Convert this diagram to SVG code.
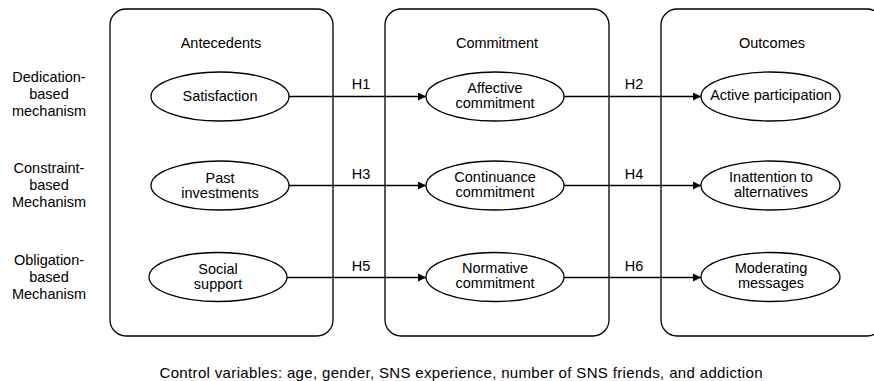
<svg xmlns="http://www.w3.org/2000/svg" width="874" height="381" viewBox="0 0 874 381">
<style>
text{font-family:"Liberation Sans",Arial,sans-serif;font-size:14.5px;fill:#000;text-anchor:middle;dominant-baseline:central}
.box{fill:#fff;stroke:#000;stroke-width:1.3}
.ell{fill:#fff;stroke:#000;stroke-width:1.3}
.con{stroke:#000;stroke-width:1.3;fill:none;marker-end:url(#ah)}
</style>
<defs>
<marker id="ah" markerWidth="8" markerHeight="8" refX="8" refY="4" orient="auto" markerUnits="userSpaceOnUse">
<path d="M0,0 L8,4 L0,8 Z" fill="#000"/>
</marker>
</defs>
<rect width="874" height="381" fill="#fff"/>
<g id="box-antecedents"><rect class="box" x="110" y="9" width="223" height="327" rx="16"/><text x="221" y="43">Antecedents</text></g>
<g id="box-commitment"><rect class="box" x="385" y="9" width="224" height="327" rx="16"/><text x="497" y="43">Commitment</text></g>
<g id="box-outcomes"><rect class="box" x="661" y="9" width="222" height="327" rx="16"/><text x="772" y="43">Outcomes</text></g>
<g id="label-dedication"><text x="49" y="77">Dedication-</text><text x="49" y="94">based</text><text x="49" y="111">mechanism</text></g>
<g id="label-constraint"><text x="49" y="168">Constraint-</text><text x="49" y="185">based</text><text x="49" y="202">Mechanism</text></g>
<g id="label-obligation"><text x="49" y="260">Obligation-</text><text x="49" y="277">based</text><text x="49" y="294">Mechanism</text></g>
<g id="connectors">
<path class="con" d="M289,96.5 H426"/>
<path class="con" d="M564,96.5 H701"/>
<path class="con" d="M289,185.5 H426"/>
<path class="con" d="M564,185.5 H701"/>
<path class="con" d="M287,277.5 H426"/>
<path class="con" d="M564,277.5 H701"/>
<text x="361" y="84">H1</text>
<text x="634" y="84">H2</text>
<text x="361" y="174">H3</text>
<text x="634" y="174">H4</text>
<text x="361" y="266">H5</text>
<text x="634" y="266">H6</text>
</g>
<g id="satisfaction"><ellipse class="ell" cx="220" cy="96.5" rx="69" ry="24.5"/><text x="220" y="96">Satisfaction</text></g>
<g id="past-investments"><ellipse class="ell" cx="220" cy="185.5" rx="69" ry="24.5"/><text x="220" y="177.5">Past</text><text x="220" y="192.5">investments</text></g>
<g id="social-support"><ellipse class="ell" cx="218" cy="277" rx="69" ry="24.5"/><text x="218" y="268.5">Social</text><text x="218" y="283.5">support</text></g>
<g id="affective-commitment"><ellipse class="ell" cx="495" cy="96.5" rx="69" ry="24.5"/><text x="495" y="87.5">Affective</text><text x="495" y="102.5">commitment</text></g>
<g id="continuance-commitment"><ellipse class="ell" cx="495" cy="185.5" rx="69" ry="24.5"/><text x="495" y="176.5">Continuance</text><text x="495" y="191.5">commitment</text></g>
<g id="normative-commitment"><ellipse class="ell" cx="495" cy="277" rx="69" ry="24.5"/><text x="495" y="268">Normative</text><text x="495" y="283">commitment</text></g>
<g id="active-participation"><ellipse class="ell" cx="770.5" cy="96.5" rx="69.5" ry="24.5"/><text x="771" y="95">Active participation</text></g>
<g id="inattention"><ellipse class="ell" cx="770.5" cy="185.5" rx="69.5" ry="24.5"/><text x="771" y="176.5">Inattention to</text><text x="771" y="191.5">alternatives</text></g>
<g id="moderating-messages"><ellipse class="ell" cx="770.5" cy="277" rx="69.5" ry="24.5"/><text x="771" y="268">Moderating</text><text x="771" y="283">messages</text></g>
<g id="control-variables"><text x="461" y="372" style="font-size:15px" textLength="603" lengthAdjust="spacing">Control variables: age, gender, SNS experience, number of SNS friends, and addiction</text></g>
</svg>
